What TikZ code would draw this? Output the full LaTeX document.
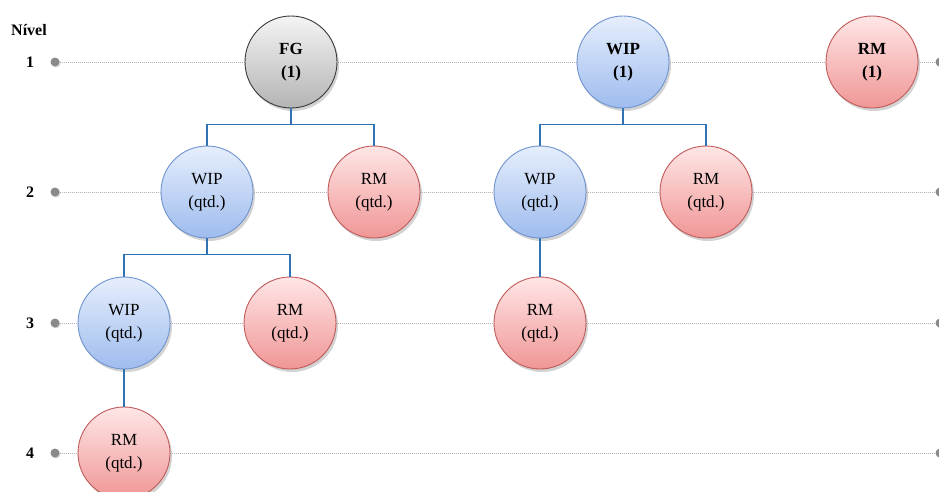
\documentclass[tikz,border=0pt]{standalone}
\usepackage{fontspec}
\setmainfont{Liberation Serif}
\usetikzlibrary{shadows}
\definecolor{fgfillA}{HTML}{F4F4F4}
\definecolor{fgfillM}{HTML}{DCDCDC}
\definecolor{fgfillB}{HTML}{B4B4B4}
\definecolor{fgline}{HTML}{3A3A3A}
\definecolor{wipfillA}{HTML}{E6EEFC}
\definecolor{wipfillM}{HTML}{C6D7F7}
\definecolor{wipfillB}{HTML}{9EBCEE}
\definecolor{wipline}{HTML}{6F93CF}
\definecolor{rmfillA}{HTML}{FFE6E6}
\definecolor{rmfillM}{HTML}{FAC2C2}
\definecolor{rmfillB}{HTML}{F09696}
\definecolor{rmline}{HTML}{C05A5A}
\definecolor{treeblue}{HTML}{2F73B5}
\definecolor{levelgray}{HTML}{B4B4B4}
\definecolor{dotgray}{HTML}{8A8A8A}
\tikzset{
  item/.style={circle, minimum size=92pt, inner sep=0pt, line width=0.9pt,
    align=center, font=\fontsize{17}{23}\selectfont,
    drop shadow={opacity=0.35, shadow xshift=2pt, shadow yshift=-3pt}},
  fgnode/.style={item, draw=fgline, top color=fgfillA, middle color=fgfillM, bottom color=fgfillB, font=\fontsize{17}{23}\selectfont\bfseries},
  wipnode/.style={item, draw=wipline, top color=wipfillA, middle color=wipfillM, bottom color=wipfillB},
  rmnode/.style={item, draw=rmline, top color=rmfillA, middle color=rmfillM, bottom color=rmfillB},
  topnode/.style={font=\fontsize{17}{23}\selectfont\bfseries},
  enddot/.style={circle, fill=dotgray, minimum size=9pt, inner sep=0pt,
    drop shadow={opacity=0.3, shadow xshift=1pt, shadow yshift=-1pt}},
  levelline/.style={draw=levelgray, line width=1pt, densely dotted},
  tree/.style={draw=treeblue, line width=1.2pt},
  levellabel/.style={font=\fontsize{16}{18}\selectfont\bfseries, anchor=center}
}
\begin{document}
\begin{tikzpicture}[x=1pt, y=-1pt]
\useasboundingbox (0,0) rectangle (939,491);
\clip (0,0) rectangle (939,491);

% level labels
\node[levellabel] (nivel) at (29,30) {Nível};
\node[levellabel] (n1) at (30,62) {1};
\node[levellabel] (n2) at (30,192) {2};
\node[levellabel] (n3) at (30,323) {3};
\node[levellabel] (n4) at (30,453) {4};

% level lines with end dots
\foreach \k/\y in {1/62, 2/192, 3/323, 4/453} {
  \node[enddot] (la\k) at (55,\y) {};
  \node[enddot] (lb\k) at (940,\y) {};
  \draw[levelline] (la\k) -- (lb\k);
}

% level 1
\node[fgnode] (fg) at (291,62) {FG\\(1)};
\node[wipnode, topnode] (wipA) at (623,62) {WIP\\(1)};
\node[rmnode, topnode] (rmA) at (872,62) {RM\\(1)};

% level 2
\node[wipnode] (wipB) at (207,192) {WIP\\(qtd.)};
\node[rmnode] (rmB) at (374,192) {RM\\(qtd.)};
\node[wipnode] (wipC) at (540,192) {WIP\\(qtd.)};
\node[rmnode] (rmC) at (706,192) {RM\\(qtd.)};

% level 3
\node[wipnode] (wipD) at (124,323) {WIP\\(qtd.)};
\node[rmnode] (rmD) at (290,323) {RM\\(qtd.)};
\node[rmnode] (rmE) at (540,323) {RM\\(qtd.)};

% level 4
\node[rmnode] (rmF) at (124,453) {RM\\(qtd.)};

% structure connectors
\draw[tree] (fg.south) -- ++(0,16) -| (wipB.north);
\draw[tree] (fg.south) -- ++(0,16) -| (rmB.north);
\draw[tree] (wipA.south) -- ++(0,16) -| (wipC.north);
\draw[tree] (wipA.south) -- ++(0,16) -| (rmC.north);
\draw[tree] (wipB.south) -- ++(0,16) -| (wipD.north);
\draw[tree] (wipB.south) -- ++(0,16) -| (rmD.north);
\draw[tree] (wipC.south) -- (rmE.north);
\draw[tree] (wipD.south) -- (rmF.north);
\end{tikzpicture}
\end{document}
